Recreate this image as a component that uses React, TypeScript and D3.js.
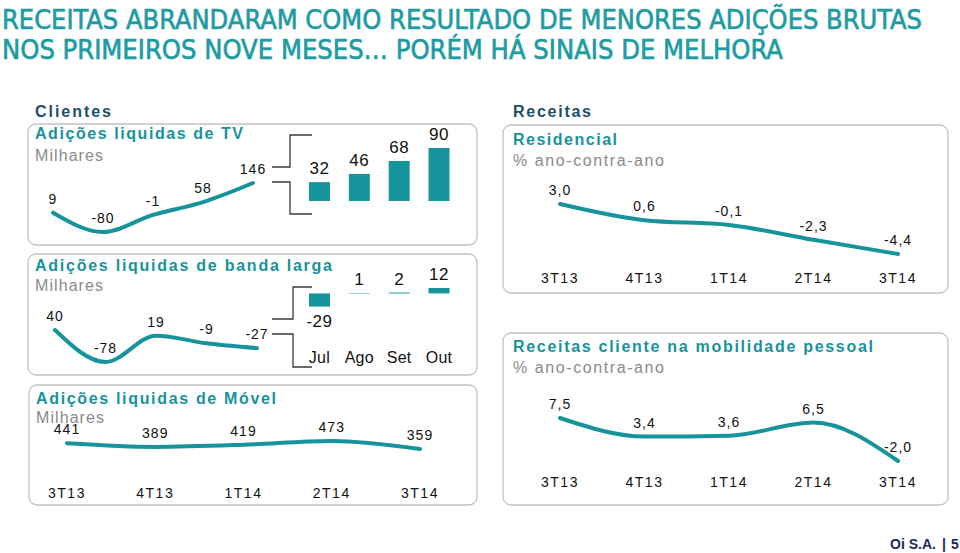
import React from "react";
import * as d3 from "d3";

// ---------- DATA ----------
const quarters = ["3T13", "4T13", "1T14", "2T14", "3T14"];
const months = ["Jul", "Ago", "Set", "Out"];
const tvQuarterly = [9, -80, -1, 58, 146];
const tvMonthly = [32, 46, 68, 90];
const bbQuarterly = [40, -78, 19, -9, -27];
const bbMonthly = [-29, 1, 2, 12];
const mobileQuarterly = [441, 389, 419, 473, 359];
const residentialRevenue = [3.0, 0.6, -0.1, -2.3, -4.4];
const mobilityRevenue = [7.5, 3.4, 3.6, 6.5, -2.0];

const titleLines = [
  "RECEITAS ABRANDARAM COMO RESULTADO DE MENORES ADIÇÕES BRUTAS",
  "NOS PRIMEIROS NOVE MESES… PORÉM HÁ SINAIS DE MELHORA",
];

// ---------- STYLE ----------
const TEAL = "#17939b";
const TITLE_TEAL = "#1e9ba3";
const DARK = "#1d4f68";
const GRAY = "#8a8a8a";
const BORDER = "#c2c2c2";
const FONT = "'Liberation Sans', Arial, Helvetica, sans-serif";
const COND = "'Liberation Sans Narrow', 'DejaVu Sans Condensed', 'Roboto Condensed', sans-serif";

const fmtInt = (v: number) => String(v);
const fmtDec = (v: number) => v.toFixed(1).replace(".", ",");

function Box({ x, y, w, h }: { x: number; y: number; w: number; h: number }) {
  return <rect x={x} y={y} width={w} height={h} rx={8} ry={8} fill="none" stroke={BORDER} strokeWidth={1.3} />;
}

function Label({ x, y, text, size = 14, anchor = "middle", weight = "normal", color = "#111", ls = 1 }: any) {
  return (
    <text x={x} y={y} fontSize={size} fontFamily={FONT} textAnchor={anchor} fontWeight={weight} fill={color} letterSpacing={ls}>
      {text}
    </text>
  );
}

function FitText({ x, y, text, width, size, weight = "normal", color }: any) {
  return (
    <text x={x} y={y} fontSize={size} fontFamily={FONT} fontWeight={weight} fill={color} textLength={width} lengthAdjust="spacing">
      {text}
    </text>
  );
}

function LineSeries({ values, xs, ys, fmt, labelDy = -9 }: any) {
  const pts = values.map((v: number, i: number) => [xs(quarters[i]) as number, ys(v)] as [number, number]);
  const line = d3.line().curve(d3.curveMonotoneX)(pts) || "";
  return (
    <g>
      <path d={line} fill="none" stroke={TEAL} strokeWidth={4} strokeLinecap="round" />
      {values.map((v: number, i: number) => (
        <Label key={i} x={pts[i][0]} y={pts[i][1] + labelDy} text={fmt(v)} size={14} />
      ))}
    </g>
  );
}

function Bracket({ x0, x1, x2, yTopIn, yTopOut, yBotIn, yBotOut }: any) {
  const p1 = `M${x0},${yTopIn}H${x1}V${yTopOut}H${x2}`;
  const p2 = `M${x0},${yBotIn}H${x1}V${yBotOut}H${x2}`;
  return (
    <g fill="none" stroke="#3a3a3a" strokeWidth={1.3}>
      <path d={p1} />
      <path d={p2} />
    </g>
  );
}

export default function App() {
  // scales
  const xTV = d3.scalePoint<string>().domain(quarters).range([53, 253]);
  const yTV = d3.scaleLinear().domain([-80, 146]).range([232, 183]);
  const xBB = d3.scalePoint<string>().domain(quarters).range([55, 257]);
  const yBB = d3.scaleLinear().domain([-78, 40]).range([362, 330]);
  const xMob = d3.scalePoint<string>().domain(quarters).range([67, 420]);
  const yMob = d3.scaleLinear().domain([359, 473]).range([449, 441]);
  const xRight = d3.scalePoint<string>().domain(quarters).range([560, 898]);
  const yRes = d3.scaleLinear().domain([-4.4, 3.0]).range([254, 204]);
  const yMobR = d3.scaleLinear().domain([-2.0, 7.5]).range([461, 418]);

  const xMonth = d3.scalePoint<string>().domain(months).range([319.5, 439]);
  const barW = 21;
  const yTVBar = d3.scaleLinear().domain([0, 90]).range([201, 148]);
  const yBBBar = d3.scaleLinear().domain([-29, 12]).range([306.6, 288]);

  return (
    <svg width={960} height={553} style={{ position: "absolute", left: 0, top: 0, background: "#fff" }}>
      {/* Title */}
      {titleLines.map((t, i) => (
        <text
          key={i}
          x={2}
          y={29 + i * 30}
          fontSize={26}
          fontFamily={COND}
          fontWeight="normal"
          fill={TITLE_TEAL}
          stroke={TITLE_TEAL}
          strokeWidth={0.6}
          textLength={i === 0 ? 920 : 781}
          lengthAdjust="spacingAndGlyphs"
        >
          {t}
        </text>
      ))}

      {/* Section headers */}
      <FitText x={35} y={117} text="Clientes" width={76} size={16} weight="bold" color={DARK} />
      <FitText x={513} y={117} text="Receitas" width={78} size={16} weight="bold" color={DARK} />

      {/* Boxes */}
      <Box x={28} y={124} w={449} h={121} />
      <Box x={28} y={254} w={449} h={121} />
      <Box x={29} y={385} w={448} h={120} />
      <Box x={503} y={125} w={445} h={168} />
      <Box x={503} y={333} w={445} h={172} />

      {/* TV panel */}
      <FitText x={35} y={139} text="Adições liquidas de TV" width={208} size={16} weight="bold" color={TEAL} />
      <FitText x={35} y={161} text="Milhares" width={68} size={16} color={GRAY} />
      <LineSeries values={tvQuarterly} xs={xTV} ys={yTV} fmt={fmtInt} labelDy={-9} />
      <Bracket x0={272} x1={290} x2={312} yTopIn={167} yTopOut={135} yBotIn={182} yBotOut={214} />
      {tvMonthly.map((v, i) => (
        <g key={i}>
          <rect x={(xMonth(months[i]) as number) - barW / 2} y={yTVBar(v)} width={barW} height={yTVBar(0) - yTVBar(v)} fill={TEAL} />
          <Label x={xMonth(months[i])} y={yTVBar(v) - 8} text={fmtInt(v)} size={17} ls={0.5} />
        </g>
      ))}

      {/* Broadband panel */}
      <FitText x={35} y={271} text="Adições liquidas de banda larga" width={297} size={16} weight="bold" color={TEAL} />
      <FitText x={35} y={291} text="Milhares" width={68} size={16} color={GRAY} />
      <LineSeries values={bbQuarterly} xs={xBB} ys={yBB} fmt={fmtInt} labelDy={-9} />
      <Bracket x0={272} x1={293} x2={312} yTopIn={319} yTopOut={287} yBotIn={334} yBotOut={367} />
      {bbMonthly.map((v, i) => {
        const y0 = yBBBar(0);
        const yv = yBBBar(v);
        const cx = xMonth(months[i]) as number;
        return (
          <g key={i}>
            <rect x={cx - barW / 2} y={Math.min(y0, yv)} width={barW} height={Math.abs(y0 - yv)} fill={TEAL} />
            <Label x={cx} y={v < 0 ? yv + 20 : yv - 8} text={fmtInt(v)} size={17} ls={0.5} />
            <Label x={cx} y={363} text={months[i]} size={16} ls={0.3} />
          </g>
        );
      })}

      {/* Mobile panel */}
      <FitText x={36} y={404} text="Adições liquidas de Móvel" width={240} size={16} weight="bold" color={TEAL} />
      <FitText x={36} y={423} text="Milhares" width={68} size={16} color={GRAY} />
      <LineSeries values={mobileQuarterly} xs={xMob} ys={yMob} fmt={fmtInt} labelDy={-9} />
      {quarters.map((q) => (
        <Label key={q} x={xMob(q)} y={498} text={q} size={14} ls={1.5} />
      ))}

      {/* Residential revenue */}
      <FitText x={513} y={145} text="Residencial" width={104} size={16} weight="bold" color={TEAL} />
      <FitText x={513} y={166} text="% ano-contra-ano" width={151} size={16} color={GRAY} />
      <LineSeries values={residentialRevenue} xs={xRight} ys={yRes} fmt={fmtDec} labelDy={-9} />
      {quarters.map((q) => (
        <Label key={q} x={xRight(q)} y={283} text={q} size={14} ls={1.5} />
      ))}

      {/* Mobility revenue */}
      <FitText x={513} y={352} text="Receitas cliente na mobilidade pessoal" width={360} size={16} weight="bold" color={TEAL} />
      <FitText x={513} y={373} text="% ano-contra-ano" width={151} size={16} color={GRAY} />
      <LineSeries values={mobilityRevenue} xs={xRight} ys={yMobR} fmt={fmtDec} labelDy={-9} />
      {quarters.map((q) => (
        <Label key={q} x={xRight(q)} y={487} text={q} size={14} ls={1.5} />
      ))}

      {/* Footer */}
      <Label x={890} y={549} text="Oi S.A." size={14} anchor="start" weight="bold" color="#1b2a5e" ls={0} />
      <Label x={944} y={549} text="|" size={14} anchor="middle" weight="bold" color="#1b2a5e" ls={0} />
      <Label x={951} y={549} text="5" size={14} anchor="start" weight="bold" color="#1b2a5e" ls={0} />
    </svg>
  );
}
